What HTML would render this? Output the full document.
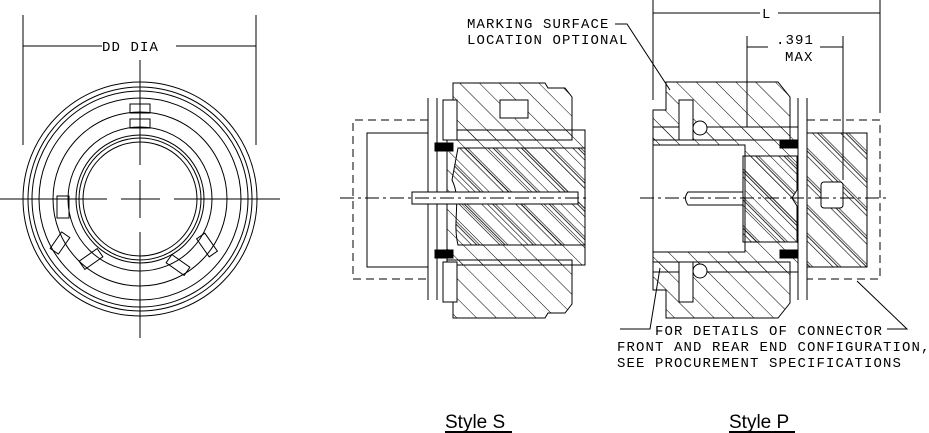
<!DOCTYPE html>
<html><head><style>
html,body{margin:0;padding:0;background:#fff;}
svg{display:block;}
.t{font-family:"Liberation Mono",monospace;font-size:14px;letter-spacing:1.1px;fill:#000;}
.s{font-family:"Liberation Sans",sans-serif;font-size:19px;fill:#000;}
</style></head><body>
<svg width="929" height="433" viewBox="0 0 929 433" xmlns="http://www.w3.org/2000/svg">
<defs>
<pattern id="h" patternUnits="userSpaceOnUse" width="14" height="14" patternTransform="rotate(-45)"><line x1="0" y1="0" x2="0" y2="14" stroke="#000" stroke-width="1"/></pattern>
<pattern id="hb" patternUnits="userSpaceOnUse" width="20" height="20" patternTransform="rotate(-45)"><line x1="0" y1="0" x2="0" y2="20" stroke="#000" stroke-width="1.2"/><line x1="4" y1="0" x2="4" y2="20" stroke="#000" stroke-width="0.8"/><line x1="6" y1="0" x2="6" y2="20" stroke="#000" stroke-width="0.6"/></pattern>
</defs>
<g fill="none" stroke="#000" stroke-width="1">
<!-- Left circle view -->
<line x1="23" y1="15" x2="23" y2="145"/><line x1="256" y1="15" x2="256" y2="145"/>
<line x1="23" y1="46" x2="102" y2="46"/><line x1="176" y1="46" x2="256" y2="46"/>
<circle cx="140" cy="199" r="117"/><circle cx="140" cy="199" r="112"/><circle cx="140" cy="199" r="108"/>
<circle cx="140" cy="199" r="101"/><circle cx="140" cy="199" r="87"/><circle cx="140" cy="199" r="72"/>
<circle cx="140" cy="199" r="64"/><circle cx="140" cy="199" r="61"/><circle cx="140" cy="199" r="57"/>
<rect x="130" y="104" width="20" height="9"/><rect x="130" y="119" width="20" height="9"/>
<rect x="57" y="196" width="12" height="22"/>
<g transform="rotate(-55 60 243)"><rect x="50" y="238" width="20" height="10"/></g>
<g transform="rotate(-35 91 259)"><rect x="80" y="254" width="22" height="10"/></g>
<g transform="rotate(35 178 265)"><rect x="167" y="260" width="22" height="10"/></g>
<g transform="rotate(55 207 245)"><rect x="196" y="240" width="22" height="10"/></g>
<line x1="0" y1="199" x2="107" y2="199"/><line x1="121" y1="199" x2="160" y2="199"/><line x1="174" y1="199" x2="280" y2="199"/>
<line x1="140" y1="60" x2="140" y2="165"/><line x1="140" y1="180" x2="140" y2="218"/><line x1="140" y1="232" x2="140" y2="338"/>

<!-- Style S -->
<path d="M428 120 H353 V279 H428" stroke-dasharray="8,5"/>
<rect x="367" y="133" width="61" height="134"/>
<line x1="428" y1="98" x2="428" y2="300"/><line x1="437" y1="98" x2="437" y2="300"/>
<path d="M453 83 L545 83 L548 88 L565 88 L572 97 L572 140 L447 140 L447 100 L453 100Z" fill="url(#h)"/>
<path d="M453 318 L545 318 L548 313 L565 313 L572 304 L572 260 L447 260 L447 300 L453 300Z" fill="url(#h)"/>
<path d="M447 130 H585 V265 H447Z" fill="url(#h)"/>
<path d="M458 148 L585 148 V245 L458 245 C452 220 462 200 452 180 Z" fill="url(#hb)" stroke="#000"/>
<rect x="443" y="100" width="14" height="40" fill="#fff"/><rect x="443" y="262" width="14" height="40" fill="#fff"/>
<rect x="500" y="100" width="28" height="18" fill="#fff"/>
<rect x="435" y="143" width="18" height="8" fill="#000"/><rect x="435" y="250" width="18" height="8" fill="#000"/>
<rect x="412" y="192" width="166" height="12" fill="#fff"/>
<line x1="340" y1="198" x2="590" y2="198" stroke-dasharray="14,4,3,4"/>

<!-- Style P -->
<line x1="653" y1="0" x2="653" y2="100"/><line x1="880" y1="0" x2="880" y2="113"/>
<line x1="653" y1="13" x2="760" y2="13"/><line x1="778" y1="13" x2="880" y2="13"/>
<line x1="747" y1="36" x2="747" y2="127"/><line x1="843" y1="36" x2="843" y2="180"/>
<line x1="747" y1="47" x2="768" y2="47"/><line x1="820" y1="47" x2="843" y2="47"/>
<path d="M615 24 H627 L670 90"/>
<path d="M666 82 L778 82 L790 97 V140 L653 140 V110 L666 110Z" fill="url(#h)"/>
<path d="M666 318 L778 318 L790 303 V262 L653 262 V290 L666 290Z" fill="url(#h)"/>
<path d="M653 127 H798 V272 H653 Z" fill="url(#h)"/>
<rect x="653" y="145" width="92" height="107" fill="#fff"/>
<path d="M743 156 L797 156 L797 190 L792 198 L797 206 L797 242 L743 242Z" fill="url(#hb)"/>
<path d="M688 192 H743 V205 H688 Q683 198 688 192Z" fill="#fff"/>
<rect x="679" y="100" width="14" height="40" fill="#fff"/><rect x="679" y="262" width="14" height="40" fill="#fff"/>
<circle cx="700" cy="128" r="7" fill="#fff"/><circle cx="700" cy="271" r="7" fill="#fff"/>
<rect x="780" y="140" width="18" height="8" fill="#000"/><rect x="780" y="250" width="18" height="8" fill="#000"/>
<line x1="798" y1="98" x2="798" y2="300"/><line x1="807" y1="98" x2="807" y2="300"/>
<path d="M807 120 H880 V279 H807" stroke-dasharray="8,5"/>
<rect x="807" y="133" width="60" height="134" fill="url(#hb)"/>
<rect x="821" y="182" width="22" height="26" rx="3" fill="#fff"/>
<line x1="640" y1="198" x2="890" y2="198" stroke-dasharray="14,4,3,4"/>
<path d="M620 329 H650 L660 268"/><path d="M887 329 H907 L857 281"/>
<line x1="445" y1="432" x2="512" y2="432" stroke-width="2"/>
<line x1="729" y1="432" x2="795" y2="432" stroke-width="2"/>
</g>
<text class="t" x="102" y="51">DD DIA</text>
<text class="t" x="467" y="28">MARKING SURFACE</text>
<text class="t" x="467" y="44">LOCATION OPTIONAL</text>
<text class="t" x="762" y="18">L</text>
<text class="t" x="776" y="44">.391</text>
<text class="t" x="785" y="61">MAX</text>
<text class="t" x="655" y="335">FOR DETAILS OF CONNECTOR</text>
<text class="t" x="617" y="351">FRONT AND REAR END CONFIGURATION,</text>
<text class="t" x="617" y="367">SEE PROCUREMENT SPECIFICATIONS</text>
<text class="s" x="445" y="428">Style S</text>
<text class="s" x="729" y="428">Style P</text>
</svg>
</body></html>
